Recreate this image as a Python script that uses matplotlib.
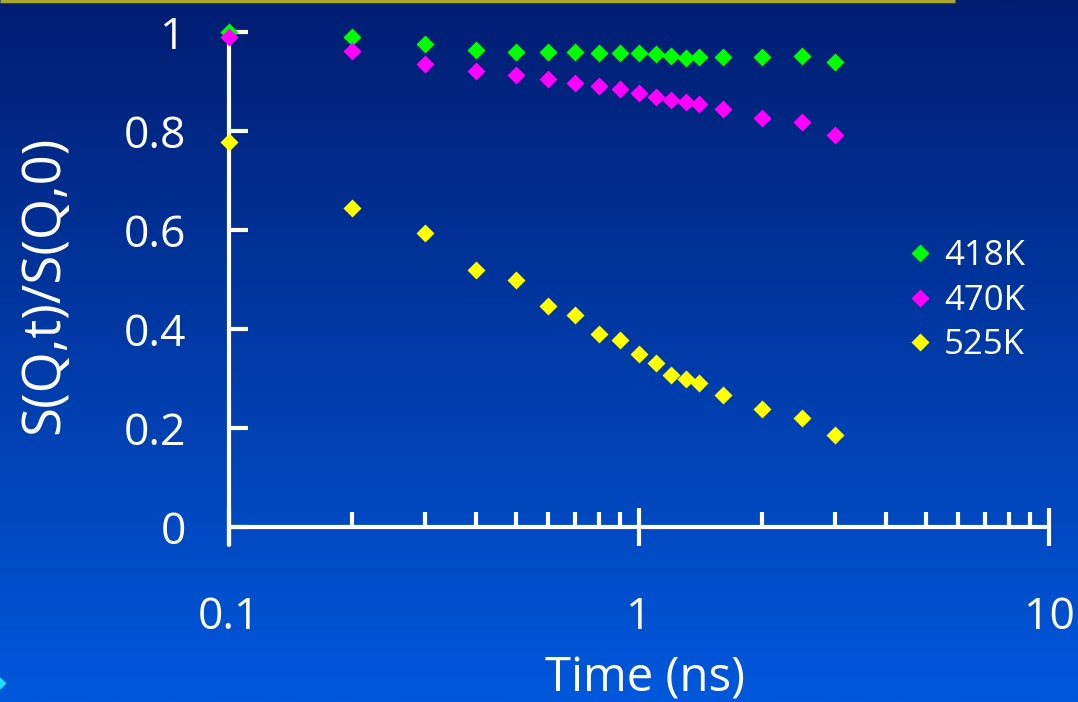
"""Normalised intermediate scattering function S(Q,t)/S(Q,0) versus time
for three temperatures, drawn on a blue slide-style gradient."""

import matplotlib

matplotlib.use("Agg")
import matplotlib.pyplot as plt
import numpy as np
from matplotlib.ticker import FixedLocator, NullFormatter, FixedFormatter

time_ns = [0.1, 0.2, 0.3, 0.4, 0.5, 0.6, 0.7, 0.8, 0.9, 1.0,
           1.1, 1.2, 1.3, 1.4, 1.6, 2.0, 2.5, 3.0]
sq_418 = [1.000, 0.990, 0.975, 0.964, 0.960, 0.960, 0.960, 0.958, 0.957, 0.957,
          0.955, 0.952, 0.948, 0.949, 0.950, 0.950, 0.952, 0.940]
sq_470 = [0.989, 0.962, 0.936, 0.922, 0.914, 0.905, 0.897, 0.891, 0.885, 0.877,
          0.868, 0.863, 0.859, 0.854, 0.844, 0.827, 0.818, 0.793]
sq_525 = [0.778, 0.644, 0.595, 0.519, 0.500, 0.446, 0.428, 0.390, 0.378, 0.349,
          0.331, 0.307, 0.300, 0.291, 0.267, 0.238, 0.220, 0.187]

series = [("418K", sq_418, "#00ff00"),
          ("470K", sq_470, "#ff00ff"),
          ("525K", sq_525, "#ffff00")]

y_ticks = [0, 0.2, 0.4, 0.6, 0.8, 1.0]
y_tick_labels = ["0", "0.2", "0.4", "0.6", "0.8", "1"]
x_major = [0.1, 1, 10]
x_major_labels = ["0.1", "1", "10"]
x_minor = [0.2, 0.3, 0.4, 0.5, 0.6, 0.7, 0.8, 0.9,
           2, 3, 4, 5, 6, 7, 8, 9]

FONT = ["Open Sans", "DejaVu Sans"]
WHITE = "white"

fig = plt.figure(figsize=(10.78, 7.02), dpi=100)

# vertical gradient background
bg = fig.add_axes([0, 0, 1, 1], zorder=-10)
top = np.array([0x00, 0x1d, 0x72]) / 255
bottom = np.array([0x00, 0x58, 0xdc]) / 255
t = np.linspace(0, 1, 256)[:, None]
grad = top[None, :] * (1 - t) + bottom[None, :] * t
bg.imshow(grad[:, None, :], aspect="auto", extent=[0, 1, 0, 1],
          interpolation="bilinear")
bg.set_xlim(0, 1)
bg.set_ylim(0, 1)
bg.axis("off")
# thin rule along the top edge and a small bullet at the lower-left corner
bg.plot([0, 0.886], [0.999, 0.999], color="#a8a830", lw=2.5, solid_capstyle="butt")
bg.plot([0.0], [1 - 683 / 702], marker="D", ms=6, color="#22ddff",
        mec="none", clip_on=False)

ax = fig.add_axes([229 / 1078, 157 / 702, 820 / 1078, 513 / 702])
ax.set_facecolor("none")
ax.set_xscale("log")
ax.set_xlim(0.1, 10)
ax.set_ylim(-0.036, 1.0)

for label, values, color in series:
    ax.plot(time_ns, values, linestyle="none", marker="D", ms=9.5,
            color=color, mec="none", label=label, clip_on=False, zorder=3)

for side in ("top", "right"):
    ax.spines[side].set_visible(False)
ax.spines["bottom"].set_position(("data", 0))
for side in ("left", "bottom"):
    ax.spines[side].set_color(WHITE)
    ax.spines[side].set_linewidth(3)
    ax.spines[side].set_capstyle("round")

ax.xaxis.set_major_locator(FixedLocator(x_major))
ax.xaxis.set_major_formatter(FixedFormatter(x_major_labels))
ax.xaxis.set_minor_locator(FixedLocator(x_minor))
ax.xaxis.set_minor_formatter(NullFormatter())
ax.yaxis.set_major_locator(FixedLocator(y_ticks))
ax.yaxis.set_major_formatter(FixedFormatter(y_tick_labels))

ax.tick_params(axis="x", which="major", direction="inout", length=27,
               width=3, color=WHITE, labelcolor=WHITE, labelsize=32, pad=36)
ax.tick_params(axis="x", which="minor", direction="in", length=11,
               width=3, color=WHITE)
ax.tick_params(axis="y", which="major", direction="in", length=14,
               width=3, color=WHITE, labelcolor=WHITE, labelsize=32, pad=31)
for lab in ax.get_xticklabels() + ax.get_yticklabels():
    lab.set_family(FONT)

fig.text(45 / 1078, 1 - 285 / 702, "S(Q,t)/S(Q,0)", rotation=90,
         ha="center", va="center", color=WHITE, fontsize=38, family=FONT)
fig.text(645 / 1078, 1 - 679 / 702, "Time (ns)", ha="center", va="center",
         color=WHITE, fontsize=34, family=FONT)

leg = ax.legend(loc="upper left", bbox_to_anchor=(885 / 1078, 1 - 222 / 702),
                bbox_transform=fig.transFigure, frameon=False,
                prop={"family": FONT, "size": 25}, labelcolor=WHITE,
                handletextpad=0.2, handlelength=1.0, labelspacing=0.3,
                borderpad=0, markerscale=1.0)

fig.savefig("out.png", dpi=100)
